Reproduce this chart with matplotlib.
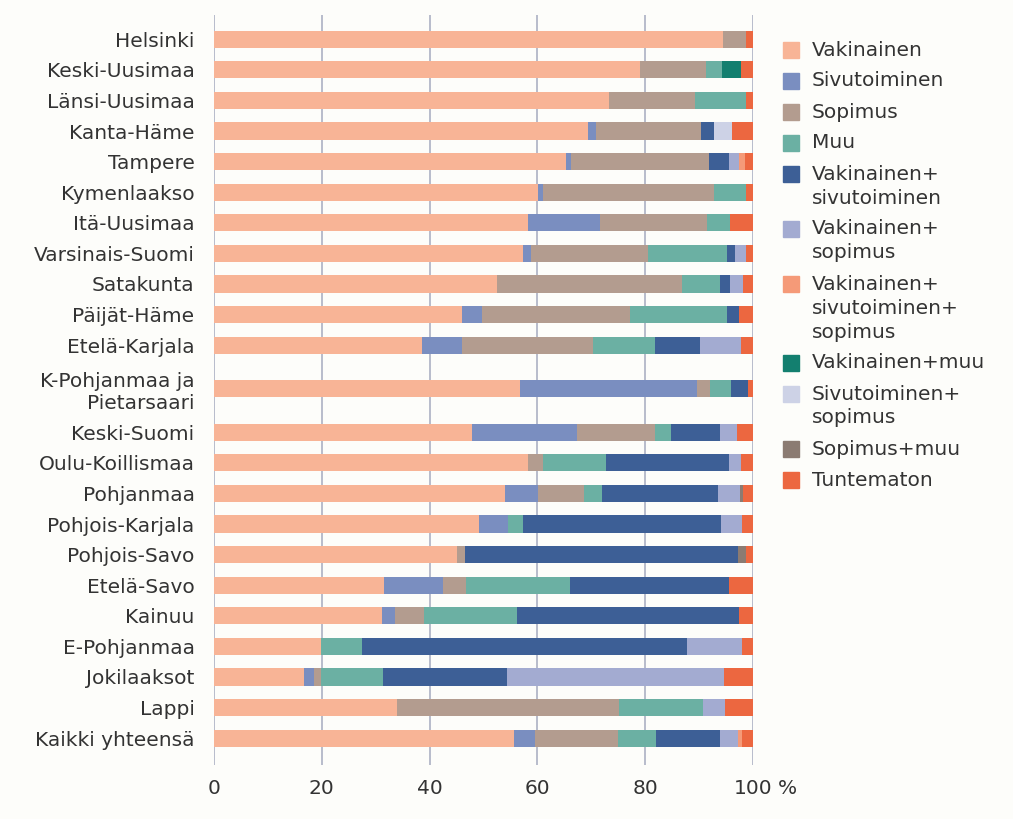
import matplotlib.pyplot as plt
import numpy as np

plt.rcParams['font.family'] = ['DejaVu Sans']

regions = ["Helsinki", "Keski-Uusimaa", "Länsi-Uusimaa", "Kanta-Häme", "Tampere",
           "Kymenlaakso", "Itä-Uusimaa", "Varsinais-Suomi", "Satakunta", "Päijät-Häme",
           "Etelä-Karjala", "K-Pohjanmaa ja\nPietarsaari", "Keski-Suomi", "Oulu-Koillismaa",
           "Pohjanmaa", "Pohjois-Karjala", "Pohjois-Savo", "Etelä-Savo", "Kainuu",
           "E-Pohjanmaa", "Jokilaaksot", "Lappi", "Kaikki yhteensä"]

# shares in %, one list per contract type, rows in the order of regions
vakinainen = [94.5, 79.0, 73.2, 69.4, 65.3, 60.2, 58.2, 57.4, 52.5, 46.0, 38.5, 56.8,
              47.8, 58.2, 54.0, 49.1, 45.0, 31.5, 31.2, 19.8, 16.6, 33.9, 55.6]
sivutoiminen = [0, 0, 0, 1.4, 1.0, 0.9, 13.5, 1.4, 0, 3.7, 7.6, 32.8,
                19.5, 0, 6.2, 5.5, 0, 10.9, 2.4, 0, 2.0, 0, 3.9]
sopimus = [4.3, 12.2, 16.0, 19.5, 25.5, 31.7, 19.7, 21.7, 34.4, 27.5, 24.2, 2.4,
           14.6, 2.9, 8.4, 0, 1.5, 4.3, 5.3, 0, 1.3, 41.3, 15.5]
muu = [0, 3.0, 9.6, 0, 0, 6.0, 4.4, 14.7, 6.9, 18.0, 11.6, 4.0,
       2.8, 11.7, 3.3, 2.7, 0, 19.4, 17.4, 7.6, 11.5, 15.5, 7.1]
vak_sivu = [0, 0, 0, 2.4, 3.7, 0, 0, 1.5, 1.9, 2.3, 8.3, 3.0,
            9.1, 22.8, 21.6, 36.7, 50.7, 29.4, 41.2, 60.4, 22.9, 0, 11.7]
vak_sop = [0, 0, 0, 0, 2.0, 0, 0, 2.1, 2.4, 0, 7.6, 0,
           3.3, 2.2, 4.1, 4.0, 0, 0, 0, 10.2, 40.4, 4.1, 3.5]
vak_sivu_sop = [0, 0, 0, 0, 1.0, 0, 0, 0, 0, 0, 0, 0,
                0, 0, 0, 0, 0, 0, 0, 0, 0, 0, 0.7]
vak_muu = [0, 3.6, 0, 0, 0, 0, 0, 0, 0, 0, 0, 0,
           0, 0, 0, 0, 0, 0, 0, 0, 0, 0, 0]
sivu_sop = [0, 0, 0, 3.4, 0, 0, 0, 0, 0, 0, 0, 0,
            0, 0, 0, 0, 0, 0, 0, 0, 0, 0, 0]
sop_muu = [0, 0, 0, 0, 0, 0, 0, 0, 0, 0, 0, 0,
           0, 0, 0.5, 0, 1.5, 0, 0, 0, 0, 0, 0]
tuntematon = [1.2, 2.2, 1.2, 3.9, 1.5, 1.2, 4.2, 1.2, 1.9, 2.5, 2.2, 1.0,
              2.9, 2.2, 1.9, 2.0, 1.3, 4.5, 2.5, 2.0, 5.3, 5.2, 2.0]

series = [vakinainen, sivutoiminen, sopimus, muu, vak_sivu, vak_sop,
          vak_sivu_sop, vak_muu, sivu_sop, sop_muu, tuntematon]
legend_labels = ["Vakinainen", "Sivutoiminen", "Sopimus", "Muu",
                 "Vakinainen+\nsivutoiminen", "Vakinainen+\nsopimus",
                 "Vakinainen+\nsivutoiminen+\nsopimus", "Vakinainen+muu",
                 "Sivutoiminen+\nsopimus", "Sopimus+muu", "Tuntematon"]
colors = ["#f8b496", "#7a8ec0", "#b39c8f", "#6bb0a3", "#3d5f96", "#a3abd1",
          "#f59a78", "#137f6f", "#cdd2e6", "#8b7b72", "#ec6740"]

bg = "#fdfdfa"
txt = "#333333"
fs = 14.5

fig = plt.figure(figsize=(10.13, 8.19), dpi=100, facecolor=bg)
ax = fig.add_axes([0.2113, 0.0659, 0.532, 0.916], facecolor=bg)

# two-line label needs a bit more room
ypos = np.arange(len(regions), dtype=float)
ypos[11] += 0.42
ypos[12:] += 0.85

left = np.zeros(len(regions))
for vals, col in zip(series, colors):
    vals = np.array(vals)
    ax.barh(ypos, vals, left=left, height=0.56, color=col, edgecolor='none')
    left += vals

ax.set_xlim(0, 100)
ax.set_ylim(ypos[-1] + 0.88, -0.8)
ax.set_yticks(ypos)
ax.set_yticklabels(regions, fontsize=fs, color=txt)
ax.set_xticks([0, 20, 40, 60, 80, 100])
ax.set_xticklabels(["0", "20", "40", "60", "80", "100"], fontsize=fs, color=txt)
ax.tick_params(axis='both', length=0)
ax.tick_params(axis='y', pad=14)
ax.tick_params(axis='x', pad=10)
ax.annotate("%", xy=(100, 0), xycoords=ax.get_xaxis_transform(),
            xytext=(25, -13.9), textcoords='offset pixels', ha='left', va='top',
            fontsize=fs, color=txt)
ax.grid(axis='x', color='#b8bccb', lw=1.4)
ax.set_axisbelow(True)
for s in ax.spines.values():
    s.set_visible(False)

# legend drawn by hand so the square sits on the first line
W, H = 1013, 819
y = 50
for lab, col in zip(legend_labels, colors):
    lines = lab.split("\n")
    fig.patches.append(plt.Rectangle((783 / W, 1 - (y + 8) / H), 16 / W, 16 / H,
                                     transform=fig.transFigure, color=col))
    for k, line in enumerate(lines):
        fig.text(812 / W, 1 - (y + 24 * k) / H, line, fontsize=fs, color=txt,
                 ha='left', va='center')
    y += 24 * (len(lines) - 1) + 31

fig.savefig("out.png", dpi=100, facecolor=bg)
